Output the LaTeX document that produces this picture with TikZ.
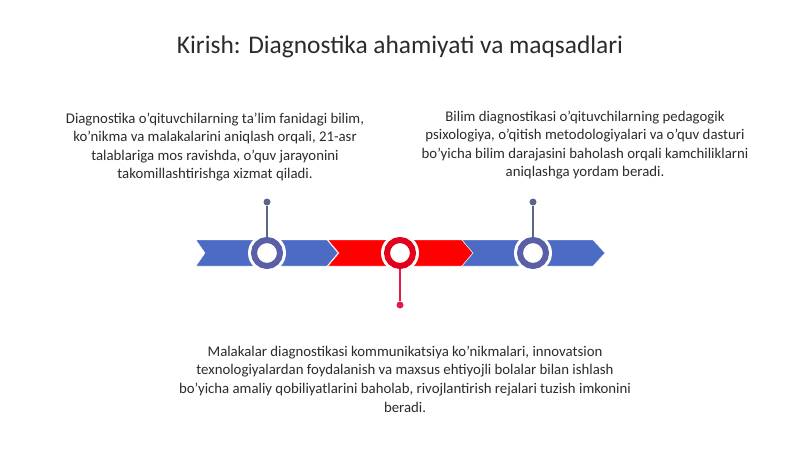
\documentclass[tikz,border=0pt]{standalone}
\usepackage{fontspec}
\setmainfont{Carlito}
\definecolor{bandblue}{HTML}{4C6BC5}
\definecolor{ringblue}{HTML}{5A5FA8}
\definecolor{bandred}{HTML}{FF0000}
\definecolor{ringred}{HTML}{E3001B}
\definecolor{stemblue}{HTML}{5B6786}
\definecolor{stemred}{HTML}{E5194A}
\definecolor{txt}{HTML}{2B2B2B}

\begin{document}
\begin{tikzpicture}[x=1pt, y=-1pt,
    halo/.style={circle, fill=white, minimum size=38pt, inner sep=0pt},
    ring/.style={circle, fill=white, draw=#1, line width=6pt, minimum size=26pt, inner sep=0pt},
    pin/.style={circle, fill=#1, minimum size=7pt, inner sep=0pt},
    textblock/.style={text=txt, align=center, font=\fontsize{14.8}{18.6}\selectfont}]
    \useasboundingbox (0,0) rectangle (800,449);

    % Titel
    \node[text=txt, font=\fontsize{25.4}{30}\selectfont] (title) at (400,47) {Kirish: Diagnostika ahamiyati va maqsadlari};

    % Pfeilband
    \fill[bandblue, draw=white] (196,240) -- (327,240) -- (338,253) -- (327,266) -- (196,266) -- (205,253) -- cycle;
    \fill[bandred, draw=white] (328,240) -- (462,240) -- (473,253) -- (462,266) -- (328,266) -- (339,253) -- cycle;
    \fill[bandblue, draw=white] (462,240) -- (593,240) -- (605,253) -- (593,266) -- (462,266) -- (473,253) -- cycle;

    % Ringe
    \node[halo] at (267,253) {};
    \node[halo] at (400,253) {};
    \node[halo] at (533,253) {};
    \node[ring=ringblue] (c1) at (267,253) {};
    \node[ring=ringred] (c2) at (400,253) {};
    \node[ring=ringblue] (c3) at (533,253) {};

    % Stiele
    \node[pin=stemblue] (p1) at (267,202) {};
    \node[pin=stemred] (p2) at (400,305) {};
    \node[pin=stemblue] (p3) at (533,202) {};
    \draw[stemblue, line width=1.5pt] (p1) -- (c1.north);
    \draw[stemred, line width=1.5pt] (c2.south) -- (p2);
    \draw[stemblue, line width=1.5pt] (p3) -- (c3.north);

    % Texte
    \node[textblock] (t1) at (215,147) {Diagnostika o'qituvchilarning ta'lim fanidagi bilim,\\ko'nikma va malakalarini aniqlash orqali, 21-asr\\talablariga mos ravishda, o'quv jarayonini\\takomillashtirishga xizmat qiladi.};
    \node[textblock] (t2) at (585,145) {Bilim diagnostikasi o'qituvchilarning pedagogik\\psixologiya, o'qitish metodologiyalari va o'quv dasturi\\bo'yicha bilim darajasini baholash orqali kamchiliklarni\\aniqlashga yordam beradi.};
    \node[textblock] (t3) at (405,379) {Malakalar diagnostikasi kommunikatsiya ko'nikmalari, innovatsion\\texnologiyalardan foydalanish va maxsus ehtiyojli bolalar bilan ishlash\\bo'yicha amaliy qobiliyatlarini baholab, rivojlantirish rejalari tuzish imkonini\\beradi.};
\end{tikzpicture}
\end{document}
